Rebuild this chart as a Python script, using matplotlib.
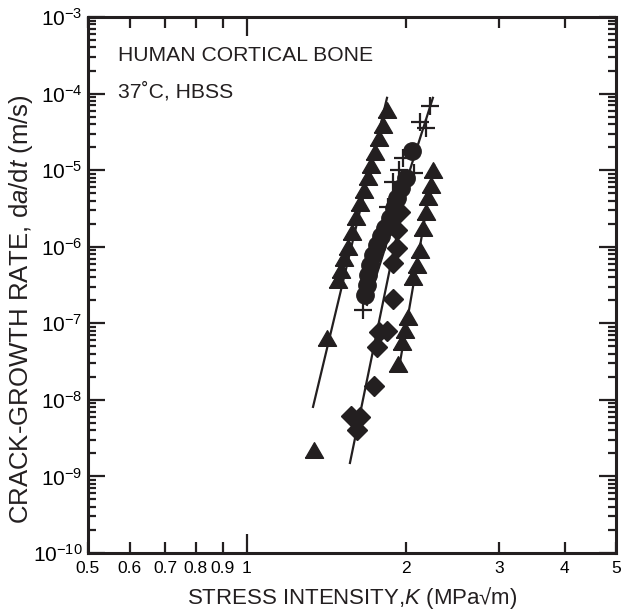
import numpy as np
import matplotlib
matplotlib.use("Agg")
import matplotlib.pyplot as plt
from matplotlib.ticker import FixedLocator, FixedFormatter, LogLocator, NullFormatter

plt.rcParams['font.family'] = ['Liberation Sans', 'DejaVu Sans']
plt.rcParams['mathtext.fontset'] = 'custom'
plt.rcParams['mathtext.rm'] = 'Liberation Sans'
plt.rcParams['mathtext.it'] = 'Liberation Sans:italic'
plt.rcParams['mathtext.bf'] = 'Liberation Sans:bold'

# ---- data ----
# left triangles
tri1_K = [1.34, 1.42, 1.488, 1.507, 1.527, 1.554, 1.581, 1.609, 1.637, 1.666,
          1.696, 1.718, 1.748, 1.779, 1.810, 1.842]
tri1_v = [2.2e-9, 6.5e-8, 3.7e-7, 5.0e-7, 7.1e-7, 9.9e-7, 1.56e-6, 2.45e-6, 3.7e-6, 5.5e-6,
          8.1e-6, 1.17e-5, 1.73e-5, 2.6e-5, 3.9e-5, 6.1e-5]
tri1_fitK = [1.334, 1.842]
tri1_fitv = [8.1e-9, 8.8e-5]

# crosses
plus_K = [2.22, 2.127, 2.18, 1.975, 1.941, 2.07, 1.891, 1.85, 1.659]
plus_v = [6.9e-5, 4.26e-5, 3.56e-5, 1.44e-5, 1.0e-5, 9.2e-6, 7.0e-6, 3.3e-6, 1.5e-7]

# circles
circ_K = [1.674, 1.688, 1.696, 1.710, 1.733, 1.763, 1.795, 1.826, 1.866, 1.899,
          1.924, 1.958, 2.001, 2.054]
circ_v = [2.35e-7, 3.2e-7, 4.3e-7, 5.8e-7, 7.8e-7, 1.05e-6, 1.38e-6, 1.76e-6, 2.4e-6, 3.2e-6,
          4.3e-6, 5.9e-6, 7.9e-6, 1.78e-5]
circ_fitK = [1.688, 2.25]
circ_fitv = [1.74e-7, 8.8e-5]

# diamonds
diam_K = [1.950, 1.924, 1.924, 1.891, 1.891, 1.779, 1.842, 1.763, 1.740, 1.574, 1.637, 1.616]
diam_v = [2.85e-6, 1.66e-6, 9.6e-7, 6.1e-7, 2.1e-7, 7.7e-8, 8.0e-8, 4.9e-8, 1.52e-8, 6.2e-9,
          6.0e-9, 4.1e-9]
diam_fitK = [1.567, 1.975]
diam_fitv = [1.5e-9, 3.5e-6]

# right triangles
tri2_K = [2.25, 2.23, 2.203, 2.18, 2.155, 2.127, 2.10, 2.063, 2.018, 1.99, 1.966, 1.933]
tri2_v = [1.0e-5, 6.4e-6, 4.5e-6, 2.85e-6, 1.76e-6, 9.1e-7, 5.8e-7, 4.0e-7, 1.21e-7, 8.2e-8,
          5.7e-8, 2.9e-8]
tri2_fitK = [1.941, 2.261]
tri2_fitv = [2.6e-8, 1.17e-5]

xtick_vals = [0.5, 0.6, 0.7, 0.8, 0.9, 2, 3, 4, 5]
xtick_labels = ['0.5', '0.6', '0.7', '0.8', '0.9', '2', '3', '4', '5']
ytick_exps = [-10, -9, -8, -7, -6, -5, -4, -3]

# ---- plot ----
C = '#231f20'
fig = plt.figure(figsize=(6.25, 6.15), dpi=100)
ax = fig.add_axes([88/625, 1-553/615, (616-88)/625, (553-17)/615])
ax.set_xscale('log')
ax.set_yscale('log')
ax.set_xlim(0.5, 5)
ax.set_ylim(1e-10, 1e-3)

tri_marker = [(-1, -0.866), (1, -0.866), (0, 0.866), (-1, -0.866)]

for fk, fv in [(tri1_fitK, tri1_fitv), (circ_fitK, circ_fitv), (diam_fitK, diam_fitv), (tri2_fitK, tri2_fitv)]:
    ax.plot(fk, fv, '-', color=C, lw=1.6, zorder=2)

ax.plot(tri1_K, tri1_v, linestyle='none', marker=tri_marker, ms=13, color=C, mec=C, zorder=3)
ax.plot(tri2_K, tri2_v, linestyle='none', marker=tri_marker, ms=13, color=C, mec=C, zorder=3)
ax.plot(diam_K, diam_v, linestyle='none', marker='D', ms=10, color=C, mec=C, zorder=3)
ax.plot(circ_K, circ_v, linestyle='none', marker='o', ms=12.5, color=C, mec=C, zorder=3)
ax.plot(plus_K, plus_v, linestyle='none', marker='+', ms=13, mew=1.6, color=C, zorder=4)

# ticks
ax.xaxis.set_major_locator(FixedLocator([1]))
ax.xaxis.set_major_formatter(FixedFormatter(['1']))
ax.xaxis.set_minor_locator(FixedLocator(xtick_vals))
ax.xaxis.set_minor_formatter(FixedFormatter(xtick_labels))
ax.yaxis.set_major_locator(FixedLocator([10.0**e for e in ytick_exps]))
ax.yaxis.set_major_formatter(FixedFormatter(['$10^{%d}$' % e for e in ytick_exps]))
ax.yaxis.set_minor_locator(LogLocator(base=10, subs=np.arange(2, 10), numticks=20))
ax.yaxis.set_minor_formatter(NullFormatter())

ax.tick_params(which='both', direction='in', top=True, right=True, color=C, width=1.6)
ax.tick_params(axis='x', which='major', length=14, labelsize=12.5, pad=6)
ax.tick_params(axis='x', which='minor', length=8, labelsize=12.5, pad=6)
ax.tick_params(axis='y', which='major', length=12, labelsize=15, pad=4)
ax.tick_params(axis='y', which='minor', length=6)
for s in ax.spines.values():
    s.set_linewidth(2.2)
    s.set_color(C)

ax.set_xlabel('STRESS INTENSITY,$\\it{K}$ (MPa\u221am)', fontsize=16, color=C, labelpad=6)
ax.set_ylabel('CRACK-GROWTH RATE, d$\\it{a}$/d$\\it{t}$ (m/s)', fontsize=18.5, color=C)
ax.yaxis.set_label_coords(-0.100, 0.455)

ax.text(0.057, 0.929, 'HUMAN CORTICAL BONE', transform=ax.transAxes, fontsize=15.2,
        va='center', ha='left', color=C)
ax.text(0.057, 0.860, '37\u02daC, HBSS', transform=ax.transAxes, fontsize=15.2,
        va='center', ha='left', color=C)

fig.savefig('out.png', dpi=100)
